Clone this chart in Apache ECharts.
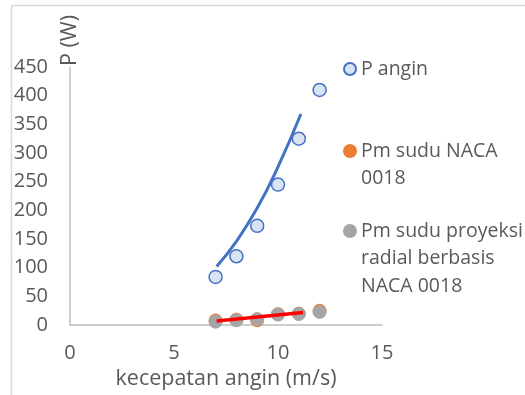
<!DOCTYPE html>
<html>
<head>
<meta charset="utf-8">
<script src="https://cdn.jsdelivr.net/npm/echarts@6/dist/echarts.min.js"></script>
<style>html,body{margin:0;padding:0;background:#fff}#c{width:525px;height:395px}</style>
</head>
<body>
<div id="c"></div>
<script>
var windSpeed = [7, 8, 9, 10, 11, 12];
var pAngin = [84, 120, 173, 245, 325, 410];
var pmNaca = [8, 9.5, 8.5, 19, 20, 25];
var pmRadial = [6, 8.5, 10.5, 18.5, 19.5, 23];
var trendBlueX = [7.05, 8, 9, 10, 11.1];
var trendBlueY = [102, 146, 204, 276, 368];
var trendRedX = [7.05, 11.2];
var trendRedY = [7, 22];
var xTicks = [0, 5, 10, 15];
var yTicks = [0, 50, 100, 150, 200, 250, 300, 350, 400, 450];
var seriesNames = ['P angin', 'Pm sudu NACA 0018', 'Pm sudu proyeksi radial berbasis NACA 0018'];
var legendLabels = ['P angin', 'Pm sudu NACA\n0018', 'Pm sudu proyeksi\nradial berbasis\nNACA 0018'];

function pairs(xs, ys) { return xs.map(function (x, i) { return [x, ys[i]]; }); }

var FONT = 'Open Sans';
var TXT = '#595959';
var LH = 27.5;
var chart = echarts.init(document.getElementById('c'));

// icon is centred on the text block; pad with leading empty lines so the
// icon lines up with the first text line
function legendFor(i, firstLineCenter) {
  var lines = legendLabels[i].split('\n').length;
  var pad = '';
  for (var k = 1; k < lines; k++) pad += '\n';
  var label = pad + legendLabels[i];
  var total = 2 * lines - 1;
  return {
    data: [seriesNames[i]],
    orient: 'vertical',
    left: 343,
    top: firstLineCenter - (total * LH) / 2,
    itemWidth: 12,
    itemHeight: 12,
    itemGap: 0,
    padding: 0,
    selectedMode: false,
    formatter: function () { return label; },
    textStyle: { fontFamily: FONT, fontSize: 19.5, color: TXT, lineHeight: LH }
  };
}

chart.setOption({
  animation: false,
  backgroundColor: '#fff',
  grid: { left: 70, right: 143, top: 67, bottom: 69 },
  xAxis: {
    type: 'value', min: 0, max: 15, interval: 5,
    name: 'kecepatan angin (m/s)', nameLocation: 'middle', nameGap: 41,
    nameTextStyle: { fontFamily: FONT, fontSize: 21.5, color: TXT },
    axisLine: { show: true, lineStyle: { color: '#bfbfbf', width: 1.5 } },
    axisTick: { show: false },
    splitLine: { show: false },
    axisLabel: { margin: 18, fontFamily: FONT, fontSize: 20, color: TXT,
      formatter: function (v) { return xTicks.indexOf(v) >= 0 ? String(v) : ''; } }
  },
  yAxis: {
    type: 'value', min: 0, max: 450, interval: 50,
    name: 'P (W)', nameLocation: 'end', nameRotate: 90, nameGap: 1,
    nameTextStyle: { fontFamily: FONT, fontSize: 21.5, color: TXT, padding: [6, 0, 0, 0] },
    axisLine: { show: true, lineStyle: { color: '#bfbfbf', width: 1.5 } },
    axisTick: { show: false },
    splitLine: { show: false },
    axisLabel: { margin: 22, fontFamily: FONT, fontSize: 20, color: TXT,
      formatter: function (v) { return yTicks.indexOf(v) >= 0 ? String(v) : ''; } }
  },
  legend: [legendFor(0, 69), legendFor(1, 151), legendFor(2, 231)],
  series: [
    { name: 'trendBlue', type: 'line', data: pairs(trendBlueX, trendBlueY), smooth: 0.5,
      showSymbol: false, symbol: 'none', lineStyle: { color: '#4472c4', width: 3 }, z: 1 },
    { name: seriesNames[0], type: 'scatter', data: pairs(windSpeed, pAngin), symbol: 'circle', symbolSize: 13,
      itemStyle: { color: '#dae3f3', borderColor: '#4472c4', borderWidth: 1.5, opacity: 1 }, z: 2 },
    { name: seriesNames[1], type: 'scatter', data: pairs(windSpeed, pmNaca), symbol: 'circle', symbolSize: 13,
      itemStyle: { color: '#ed7d31', borderColor: '#ed7d31', borderWidth: 1, opacity: 1 }, z: 2 },
    { name: seriesNames[2], type: 'scatter', data: pairs(windSpeed, pmRadial), symbol: 'circle', symbolSize: 13,
      itemStyle: { color: '#a5a5a5', borderColor: '#a5a5a5', borderWidth: 1, opacity: 1 }, z: 3 },
    { name: 'trendRed', type: 'line', data: pairs(trendRedX, trendRedY),
      showSymbol: false, symbol: 'none', lineStyle: { color: '#ff0000', width: 3.5 }, z: 4 }
  ],
  graphic: [
    { type: 'line', shape: { x1: 11, y1: 5.5, x2: 525, y2: 5.5 }, style: { stroke: '#d9d9d9', lineWidth: 1.5 } },
    { type: 'line', shape: { x1: 11.5, y1: 5, x2: 11.5, y2: 395 }, style: { stroke: '#d9d9d9', lineWidth: 1.5 } }
  ]
});
</script>
</body>
</html>
